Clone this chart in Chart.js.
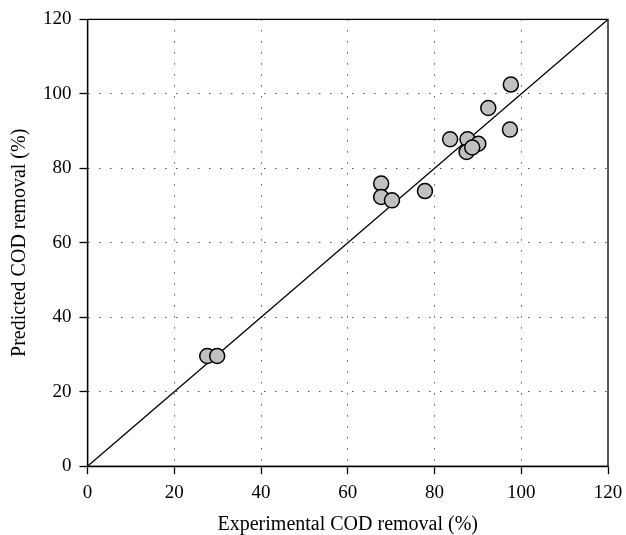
<!DOCTYPE html>
<html>
<head>
<meta charset="utf-8">
<script src="https://cdn.jsdelivr.net/npm/chart.js@4"></script>
<style>
html,body{margin:0;padding:0;background:#fff;}
#wrap{width:626px;height:535px;}
</style>
</head>
<body>
<div id="wrap"><canvas id="c" width="626" height="535"></canvas></div>
<script>
const experimental = [27.6, 29.9, 67.7, 67.7, 70.2, 77.8, 83.6, 87.6, 90.1, 87.4, 88.7, 92.4, 97.6, 97.4];
const predicted    = [29.6, 29.6, 75.9, 72.3, 71.4, 73.9, 87.8, 87.8, 86.6, 84.4, 85.6, 96.2, 102.5, 90.4];
const lineX = [0, 120];
const lineY = [0, 120];
const xTitle = 'Experimental COD removal (%)';
const yTitle = 'Predicted COD removal (%)';

const scatterData = experimental.map((x, i) => ({x: x, y: predicted[i]}));
const lineData = lineX.map((x, i) => ({x: x, y: lineY[i]}));

const frame = {
  id: 'frame',
  afterDraw(chart) {
    const a = chart.chartArea, ctx = chart.ctx;
    ctx.save();
    ctx.strokeStyle = '#000';
    ctx.lineWidth = 1.3;
    ctx.strokeRect(a.left, a.top, a.right - a.left, a.bottom - a.top);
    ctx.restore();
  }
};

const tickFont = {family: '"Liberation Serif", "DejaVu Serif", serif', size: 19};
const titleFontX = {family: '"Liberation Serif", "DejaVu Serif", serif', size: 20, lineHeight: 1.0};
const titleFontY = {family: '"Liberation Serif", "DejaVu Serif", serif', size: 20};
const gridColor = ctx => (ctx.tick && (ctx.tick.value === 0 || ctx.tick.value === 120)) ? 'rgba(0,0,0,0)' : '#000';

new Chart(document.getElementById('c'), {
  type: 'scatter',
  data: {
    datasets: [
      {
        type: 'line',
        data: lineData,
        borderColor: '#000',
        borderWidth: 1.3,
        pointRadius: 0,
        fill: false,
        order: 2
      },
      {
        data: scatterData,
        backgroundColor: '#c0c0c0',
        borderColor: '#000',
        borderWidth: 1.5,
        pointRadius: 7.5,
        pointHoverRadius: 7.5,
        order: 1
      }
    ]
  },
  options: {
    responsive: false,
    animation: false,
    events: [],
    plugins: {legend: {display: false}, tooltip: {enabled: false}},
    layout: {padding: {left: 8, right: 18, top: 18, bottom: 0}},
    scales: {
      x: {
        type: 'linear', min: 0, max: 120,
        afterFit: s => { s.paddingRight = 0; },
        ticks: {stepSize: 20, color: '#000', font: tickFont, padding: 7},
        grid: {
          color: gridColor,
          lineWidth: 1,
          tickColor: '#000',
          tickLength: 8,
          tickWidth: 1.3
        },
        border: {display: true, color: '#000', width: 1.3, dash: [1, 10]},
        title: {display: true, text: xTitle, color: '#000', font: titleFontX, padding: {top: 4, bottom: 0}}
      },
      y: {
        type: 'linear', min: 0, max: 120,
        ticks: {stepSize: 20, color: '#000', font: tickFont, padding: 8},
        grid: {
          color: gridColor,
          lineWidth: 1,
          tickColor: '#000',
          tickLength: 8,
          tickWidth: 1.3
        },
        border: {display: true, color: '#000', width: 1.3, dash: [1, 10]},
        title: {display: true, text: yTitle, color: '#000', font: titleFontY, padding: {top: 0, bottom: 3}}
      }
    }
  },
  plugins: [frame]
});
</script>
</body>
</html>
